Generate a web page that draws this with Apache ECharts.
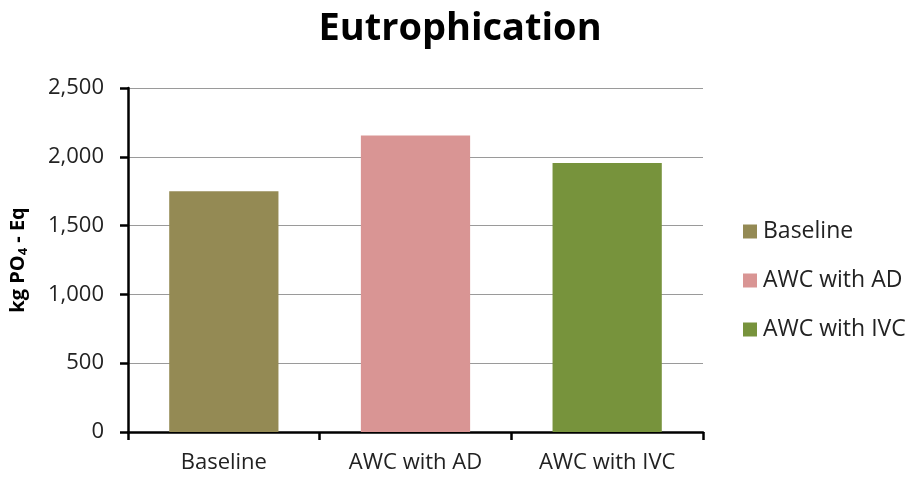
<!DOCTYPE html>
<html><head><meta charset="utf-8">
<script src="https://cdn.jsdelivr.net/npm/echarts@6/dist/echarts.min.js"></script>
<style>html,body{margin:0;padding:0;background:#fff}#c{width:917px;height:481px}</style>
</head><body><div id="c"></div>
<script>
const categories = ['Baseline', 'AWC with AD', 'AWC with IVC'];
const seriesNames = ['Baseline', 'AWC with AD', 'AWC with IVC'];
const values = [1750, 2155, 1955];
const colors = ['#948A54', '#D99594', '#77933C'];
const chart = echarts.init(document.getElementById('c'));
const FONT = 'Open Sans';
const series = seriesNames.map((n, i) => ({
  name: n, type: 'bar', stack: 'all', barWidth: '57%',
  itemStyle: {color: colors[i]},
  data: categories.map((c, j) => j === i ? values[i] : '-')
}));
chart.setOption({
  animation: false,
  title: {text: 'Eutrophication', left: 455, top: 5, textAlign: 'center',
    textStyle: {fontFamily: FONT, fontSize: 38, fontWeight: 'bold', color: '#000'}},
  legend: {orient: 'vertical', left: 738, top: 215, itemWidth: 14, itemHeight: 14, itemGap: 26,
    icon: 'rect', textStyle: {fontFamily: FONT, fontSize: 23, color: '#222', padding: [0,0,0,1]}},
  grid: {left: 128, right: 214, top: 88, bottom: 49},
  xAxis: {type: 'category', data: categories,
    axisLine: {lineStyle: {color: '#000', width: 2.5}},
    axisTick: {show: true, length: 8, lineStyle: {color: '#000', width: 2.5}},
    axisLabel: {fontFamily: FONT, fontSize: 22, color: '#222', margin: 20}},
  yAxis: {type: 'value', min: 0, max: 2500, interval: 500,
    name: '{a|kg PO}{s|4}{a| - Eq}', nameLocation: 'middle', nameGap: 98, nameRotate: 90,
    nameTextStyle: {rich: {a: {fontFamily: FONT, fontSize: 20, fontWeight: 'bold', color: '#000'},
      s: {fontFamily: FONT, fontSize: 13, fontWeight: 'bold', color: '#000', verticalAlign: 'bottom', padding: [10,0,0,0]}}},
    axisLine: {show: true, lineStyle: {color: '#000', width: 2.5}},
    axisTick: {show: true, length: 8, lineStyle: {color: '#000', width: 2.5}},
    splitLine: {lineStyle: {color: '#9a9a9a', width: 1.2}},
    axisLabel: {fontFamily: FONT, fontSize: 22, color: '#222', margin: 24,
      formatter: v => v.toLocaleString('en-US')}},
  series: series
});
</script></body></html>
